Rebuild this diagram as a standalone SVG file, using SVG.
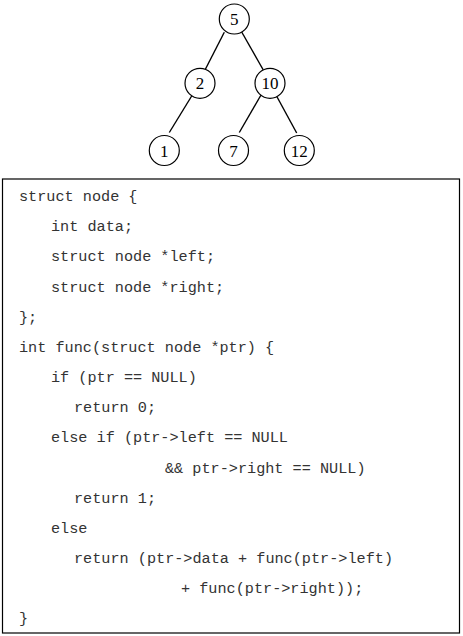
<svg xmlns="http://www.w3.org/2000/svg" width="463" height="636" viewBox="0 0 463 636">
<style>
.nd circle{fill:#fff;stroke:#000;stroke-width:1.2}
.nd text{font-family:"Liberation Serif","Times New Roman",serif;font-size:17px;text-anchor:middle;fill:#000}
.edge{stroke:#000;stroke-width:1.4;fill:none}
.code{font-family:"Liberation Mono","Courier New",monospace;font-size:15.2px;fill:#333;white-space:pre}
</style>
<rect width="463" height="636" fill="#fff"/>
<g id="connectors">
<line class="edge" x1="224.3" y1="32.3" x2="205" y2="70"/>
<line class="edge" x1="241.7" y1="32" x2="263.3" y2="70"/>
<line class="edge" x1="192.3" y1="95" x2="169.3" y2="132.5"/>
<line class="edge" x1="261" y1="95" x2="239.3" y2="132.5"/>
<line class="edge" x1="276" y1="95" x2="296.7" y2="133"/>
</g>
<g id="n5" class="nd"><circle cx="234.3" cy="19" r="15"/><text x="234.3" y="25">5</text></g>
<g id="n2" class="nd"><circle cx="200" cy="83.3" r="15"/><text x="200" y="89.3">2</text></g>
<g id="n10" class="nd"><circle cx="270" cy="83.3" r="15"/><text x="270" y="89.3">10</text></g>
<g id="n1" class="nd"><circle cx="164.3" cy="150.5" r="15"/><text x="164.3" y="156.5">1</text></g>
<g id="n7" class="nd"><circle cx="233.5" cy="150.5" r="15"/><text x="233.5" y="156.5">7</text></g>
<g id="n12" class="nd"><circle cx="299.3" cy="150.5" r="15"/><text x="299.3" y="156.5">12</text></g>
<g id="codebox">
<rect x="2.5" y="179" width="457" height="454" fill="none" stroke="#000" stroke-width="1.2"/>
<text class="code" x="19" y="201">struct node {</text>
<text class="code" x="51" y="231">int data;</text>
<text class="code" x="51" y="261">struct node *left;</text>
<text class="code" x="51" y="291.5">struct node *right;</text>
<text class="code" x="19" y="321.6">};</text>
<text class="code" x="19" y="351.8">int func(struct node *ptr) {</text>
<text class="code" x="51" y="382">if (ptr == NULL)</text>
<text class="code" x="74" y="412.2">return 0;</text>
<text class="code" x="51" y="442.4">else if (ptr-&gt;left == NULL</text>
<text class="code" x="165" y="472.6">&amp;&amp; ptr-&gt;right == NULL)</text>
<text class="code" x="74" y="502.7">return 1;</text>
<text class="code" x="51" y="532.8">else</text>
<text class="code" x="74" y="563">return (ptr-&gt;data + func(ptr-&gt;left)</text>
<text class="code" x="181" y="593">+ func(ptr-&gt;right));</text>
<text class="code" x="19" y="623">}</text>
</g>
</svg>
